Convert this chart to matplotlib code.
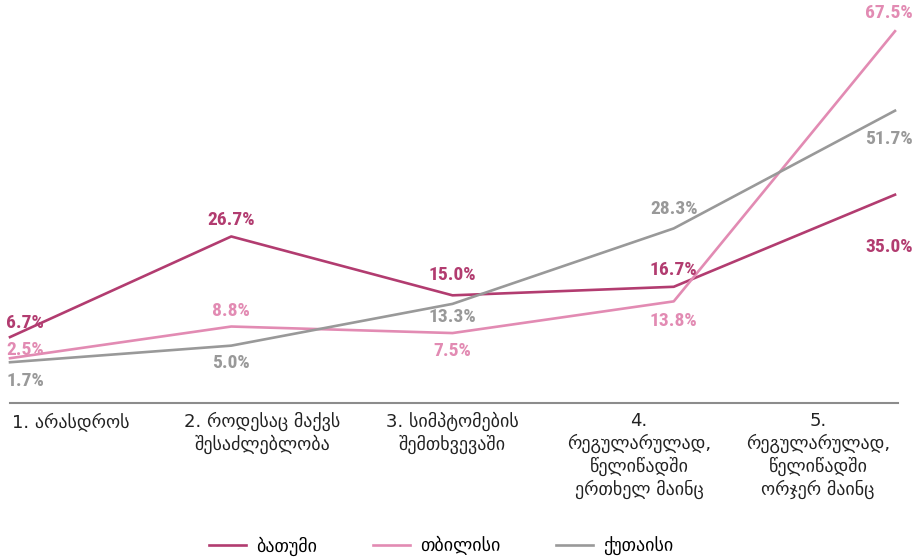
import matplotlib.pyplot as plt

categories = ['1. არასდროს',
              '2. როდესაც მაქვს\nშესაძლებლობა',
              '3. სიმპტომების\nშემთხვევაში',
              '4.\nრეგულარულად,\nწელიწადში\nერთხელ მაინც',
              '5.\nრეგულარულად,\nწელიწადში\nორჯერ მაინც']
batumi = [6.7, 26.7, 15.0, 16.7, 35.0]
tbilisi = [2.5, 8.8, 7.5, 13.8, 67.5]
kutaisi = [1.7, 5.0, 13.3, 28.3, 51.7]
series_names = ['ბათუმი', 'თბილისი', 'ქუთაისი']

colors = ['#b23c70', '#e28bb3', '#999999']

# label offsets (pixels) and alignment per point
offs = {
    0: [(-4, 14, 'left'), (0, 16, 'center'), (0, 20, 'center'), (0, 17, 'center'), (18, -52, 'right')],
    1: [(-4, 8, 'left'), (0, 16, 'center'), (0, -18, 'center'), (0, -20, 'center'), (18, 18, 'right')],
    2: [(-4, -19, 'left'), (0, -17, 'center'), (0, -13, 'center'), (0, 19, 'center'), (18, -28, 'right')],
}

numfont = ['Roboto Condensed', 'Barlow Condensed', 'DejaVu Sans']

W, H = 917, 559
fig = plt.figure(figsize=(W / 100, H / 100), dpi=100)
ax = fig.add_axes([10 / W, (H - 403) / H, 885 / W, 403 / H])
ax.set_xlim(0, 4)
ax.set_ylim(-6.4, 73.7)
ax.axis('off')
ax.axhline(-6.4, color='#8c8c8c', lw=1.5, xmax=1.003, clip_on=False)

x = list(range(len(categories)))
for i, vals in enumerate([batumi, tbilisi, kutaisi]):
    ax.plot(x, vals, color=colors[i], lw=1.9, label=series_names[i], clip_on=False)
    for j, v in enumerate(vals):
        dx, dy, ha = offs[i][j]
        ax.annotate(f'{v:.1f}%', (j, v), xytext=(dx, dy), textcoords='offset pixels',
                    ha=ha, va='center', color=colors[i], fontsize=14,
                    fontweight='bold', family=numfont, fontstretch='condensed')

# category labels
cat_x = [12, 262, 452, 639, 818]
for j, lab in enumerate(categories):
    ha = 'left' if j == 0 else 'center'
    fig.text(cat_x[j] / W, 1 - 412 / H, lab, ha=ha, va='top', multialignment='center',
             fontsize=13, color='#222222', family='DejaVu Sans', linespacing=1.24)

fig.legend(loc='center', bbox_to_anchor=(441 / W, 1 - 546 / H), ncol=3, frameon=False,
           handlelength=2.05, columnspacing=3.1, handletextpad=0.55,
           prop={'family': 'DejaVu Sans', 'size': 13})

fig.savefig('out.png', dpi=100)
